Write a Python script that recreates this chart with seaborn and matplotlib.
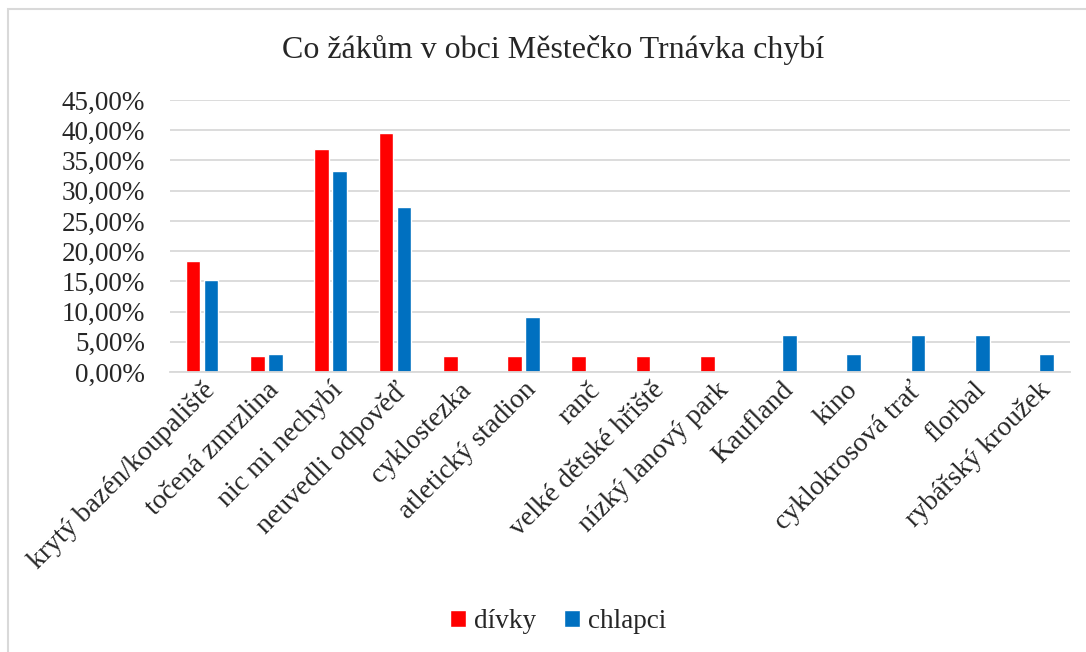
import pandas as pd
import matplotlib
matplotlib.use("Agg")
import matplotlib.pyplot as plt
import seaborn as sns
from matplotlib.ticker import FuncFormatter
from matplotlib.patches import Rectangle

# data (podíly odpovědí)
kategorie = ["krytý bazén/koupaliště", "točená zmrzlina", "nic mi nechybí",
             "neuvedli odpověď", "cyklostezka", "atletický stadion", "ranč",
             "velké dětské hřiště", "nízký lanový park", "Kaufland", "kino",
             "cyklokrosová trať", "florbal", "rybářský kroužek"]
divky = [0.1842, 0.0263, 0.3684, 0.3947, 0.0263, 0.0263, 0.0263,
         0.0263, 0.0263, 0, 0, 0, 0, 0]
chlapci = [0.1515, 0.0303, 0.3333, 0.2727, 0, 0.0909, 0,
           0, 0, 0.0606, 0.0303, 0.0606, 0.0606, 0.0303]
skupiny = ["dívky", "chlapci"]
barvy = ["#FF0000", "#0070C0"]

df = pd.DataFrame({
    "kategorie": kategorie * 2,
    "skupina": [skupiny[0]] * len(kategorie) + [skupiny[1]] * len(kategorie),
    "podil": divky + chlapci,
})

sns.set_style("white")
plt.rcParams["font.family"] = ["Liberation Serif", "DejaVu Serif"]

fig = plt.figure(figsize=(10.86, 6.52), dpi=100)
ax = fig.add_axes([0.1565, 0.4294, 0.8285, 0.4172])

sns.barplot(data=df, x="kategorie", y="podil", hue="skupina",
            palette=barvy, width=0.56, gap=0.18, ax=ax,
            saturation=1, legend=True)

ax.set_ylim(0, 0.45)
ax.set_yticks([i * 0.05 for i in range(10)])
ax.yaxis.set_major_formatter(FuncFormatter(lambda v, p: f"{v*100:.2f}%".replace(".", ",")))
ax.grid(axis="y", color="#d9d9d9", linewidth=1.3)
ax.set_axisbelow(True)
for s in ["top", "right", "left"]:
    ax.spines[s].set_visible(False)
ax.spines["bottom"].set_color("#d9d9d9")
ax.spines["bottom"].set_linewidth(1.3)
ax.tick_params(axis="y", length=0, labelsize=19.5, pad=18)
ax.tick_params(axis="x", length=0, labelsize=20, pad=4)
ax.set_xlabel("")
ax.set_ylabel("")
plt.setp(ax.get_xticklabels(), rotation=45, ha="right", rotation_mode="anchor")
ax.set_xlim(-0.5, len(kategorie) - 0.5)

fig.suptitle("Co žákům v obci Městečko Trnávka chybí", fontsize=23, x=0.509, y=0.947)

h, l = ax.get_legend_handles_labels()
ax.legend_.remove()
fig.legend(h, l, loc="center", bbox_to_anchor=(0.514, 0.047), ncol=2, frameon=False,
           fontsize=19.5, handlelength=0.6, handleheight=0.6, handletextpad=0.3,
           columnspacing=1.0)

# ramecek grafu
fig.patches.append(Rectangle((8 / 1086, -0.1), 1.2, 1 - 9 / 652 + 0.1,
                             transform=fig.transFigure, fill=False,
                             edgecolor="#d9d9d9", linewidth=1.5))

fig.savefig("out.png", dpi=100)
plt.close()
